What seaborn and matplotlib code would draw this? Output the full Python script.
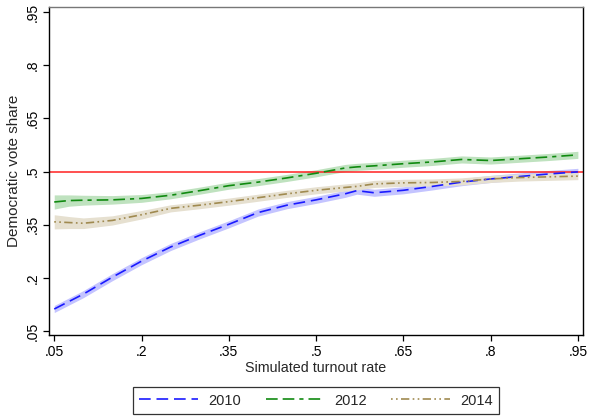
import pandas as pd
import matplotlib
matplotlib.use("Agg")
import matplotlib.pyplot as plt
import seaborn as sns

# ================= DATA =================
turnout = [.05, .075, .1, .15, .2, .25, .3, .35, .4, .45, .5, .55, .57, .6,
           .65, .7, .75, .8, .85, .9, .95]

share_2010 = [.112, .133, .154, .202, .247, .287, .320, .351, .384, .405,
              .420, .437, .446, .440, .447, .458, .470, .479, .486, .493, .499]
share_2012 = [.414, .418, .419, .420, .424, .433, .446, .460, .470, .482,
              .495, .510, .513, .516, .522, .527, .534, .531, .536, .541, .547]
share_2014 = [.358, .356, .354, .362, .378, .396, .405, .415, .426, .437,
              .447, .455, .458, .465, .468, .469, .472, .479, .483, .485, .487]

# half-width of the shaded band
band_2010 = [.010] * len(turnout)
band_2012 = [.020, .016, .014, .012, .011] + [.010] * (len(turnout) - 5)
band_2014 = [.020, .017, .015, .013, .012] + [.010] * (len(turnout) - 5)

years = ["2010", "2012", "2014"]
xticks = [.05, .2, .35, .5, .65, .8, .95]
tick_labels = [".05", ".2", ".35", ".5", ".65", ".8", ".95"]

# ================= PLOT =================
sns.set_style("white")
plt.rcParams["font.family"] = ["Liberation Sans", "DejaVu Sans"]

fig = plt.figure(figsize=(5.89, 4.16), dpi=100)
ax = fig.add_axes([0.0832, 0.195, 0.9068, 0.788])

series = {
    "2010": (share_2010, band_2010, "#1a1aff", "#c4c4ff", (7, 3.5)),
    "2012": (share_2012, band_2012, "#108a10", "#bfe2bf", (7, 3, 7, 3, 2.5, 3)),
    "2014": (share_2014, band_2014, "#a08a50", "#e6e0d0", (1, 2, 1, 2, 5, 2)),
}

for yr in years:
    vals, band, col, fill, dash = series[yr]
    lo = [v - b for v, b in zip(vals, band)]
    hi = [v + b for v, b in zip(vals, band)]
    ax.fill_between(turnout, lo, hi, color=fill, lw=0, zorder=1)

for yr in years:
    vals, band, col, fill, dash = series[yr]
    df = pd.DataFrame({"turnout": turnout, "share": vals})
    sns.lineplot(data=df, x="turnout", y="share", ax=ax, color=col, lw=1.2,
                 dashes=False, label=yr, zorder=3)
    ax.lines[-1].set_dashes(dash)

ax.axhline(0.5, color="#ff2020", lw=1.1, zorder=2)

ax.set_xlim(0.041, 0.959)
ax.set_ylim(0.039, 0.964)
ax.set_xticks(xticks)
ax.set_xticklabels(tick_labels, fontsize=10)
ax.set_yticks(xticks)
ax.set_yticklabels(tick_labels, fontsize=10, rotation=90, va="center")
ax.tick_params(axis="both", direction="out", length=4, width=0.9, colors="black",
               bottom=True, left=True, pad=3)
ax.set_xlabel("Simulated turnout rate", fontsize=10.3, labelpad=2)
ax.set_ylabel("Democratic vote share", fontsize=11, labelpad=3)

for side in ["left", "bottom", "right"]:
    ax.spines[side].set_color("black")
    ax.spines[side].set_linewidth(1.0)
ax.spines["top"].set_color("#777777")
ax.spines["top"].set_linewidth(1.0)

leg = ax.legend(loc="upper center", bbox_to_anchor=(0.5, -0.159), ncol=3,
                frameon=True, fancybox=False, fontsize=10.5, handlelength=4.0,
                columnspacing=1.7, borderpad=0.45, handletextpad=0.7,
                borderaxespad=0)
leg.get_frame().set_edgecolor("black")
leg.get_frame().set_linewidth(0.9)

fig.savefig("out.png", dpi=100)
